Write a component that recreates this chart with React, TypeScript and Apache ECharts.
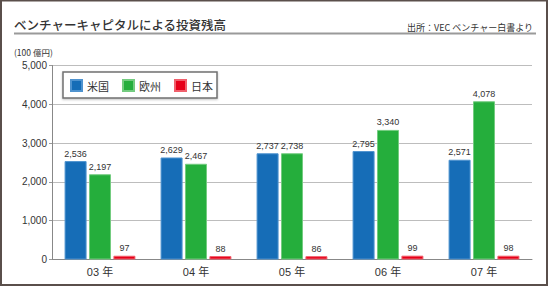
import React, { useEffect, useRef } from "react";
import * as echarts from "echarts";

const categories = ["03 年", "04 年", "05 年", "06 年", "07 年"];
const usValues = [2536, 2629, 2737, 2795, 2571];
const euValues = [2197, 2467, 2738, 3340, 4078];
const jpValues = [97, 88, 86, 99, 98];
const seriesNames = ["米国", "欧州", "日本"];
const yTicks = { min: 0, max: 5000, interval: 1000 };

const TITLE = "ベンチャーキャピタルによる投資残高";
const SOURCE = "出所：VEC ベンチャー白書より";
const UNIT = "(100 億円)";

const LATIN = "'Liberation Sans', Arial, 'Noto Sans CJK JP', sans-serif";
const CJK = "'Noto Sans CJK JP', 'Liberation Sans', sans-serif";

export default function App() {
  const ref = useRef<HTMLDivElement>(null);

  useEffect(() => {
    document.body.style.margin = "0";
    const chart = echarts.init(ref.current!, null, { renderer: "svg" });
    const label = {
      show: true,
      position: "top" as const,
      distance: 3,
      color: "#333",
      fontSize: 9,
      fontFamily: LATIN,
      formatter: (p: any) => Number(p.value).toLocaleString("en-US"),
    };
    const mk = (name: string, data: number[], color: string, border: string) => ({
      name,
      type: "bar",
      data,
      barWidth: 22,
      barGap: "11%",
      itemStyle: { color, borderColor: border, borderWidth: 1 },
      label,
    });
    chart.setOption({
      animation: false,
      backgroundColor: "#fff",
      grid: { left: 52, right: 18, top: 65.5, bottom: 27.5 },
      legend: {
        data: seriesNames,
        left: 70,
        top: 79,
        padding: 0,
        itemWidth: 11,
        itemHeight: 11,
        itemGap: 13,
        icon: "rect",
        z: 10,
        textStyle: { fontSize: 11, color: "#333", fontFamily: CJK },
      },
      xAxis: {
        type: "category",
        data: categories,
        axisLine: { show: true, lineStyle: { color: "#888", width: 1 } },
        axisTick: { show: false },
        axisLabel: { color: "#333", fontSize: 11, fontFamily: LATIN, margin: 7 },
      },
      yAxis: {
        type: "value",
        min: yTicks.min,
        max: yTicks.max,
        interval: yTicks.interval,
        axisLine: { show: true, lineStyle: { color: "#888", width: 1 } },
        axisTick: { show: true, length: 3, lineStyle: { color: "#999" } },
        splitLine: { show: true, lineStyle: { color: "#bdbdbd", width: 1 } },
        axisLabel: {
          color: "#333",
          fontSize: 10,
          fontFamily: LATIN,
          margin: 5,
          formatter: (v: number) => v.toLocaleString("en-US"),
        },
      },
      series: [
        mk(seriesNames[0], usValues, "#166db7", "#4f93cf"),
        mk(seriesNames[1], euValues, "#25ae3c", "#74cc80"),
        mk(seriesNames[2], jpValues, "#e60019", "#f0606c"),
      ],
      graphic: [
        {
          type: "rect",
          shape: { x: 1, y: 0.5, width: 546, height: 284.5 },
          style: { fill: "none", stroke: "#5a4f4b", lineWidth: 2 },
          z: 20,
        },
        {
          type: "text",
          x: 14,
          y: 24,
          style: {
            text: TITLE,
            fontSize: 12.5,
            fontWeight: 500,
            fontFamily: CJK,
            fill: "#333",
            verticalAlign: "middle",
          },
        },
        {
          type: "line",
          shape: { x1: 14, y1: 33.5, x2: 536, y2: 33.5 },
          style: { stroke: "#9a9a9a", lineWidth: 2 },
        },
        {
          type: "text",
          x: 533,
          y: 27,
          style: {
            text: SOURCE,
            fontSize: 9,
            fontFamily: CJK,
            fill: "#333",
            align: "right",
            verticalAlign: "middle",
          },
        },
        {
          type: "text",
          x: 14,
          y: 52,
          style: {
            text: UNIT,
            fontSize: 8.5,
            fontFamily: CJK,
            fill: "#333",
            verticalAlign: "middle",
          },
        },
        {
          type: "rect",
          z: 5,
          shape: { x: 63, y: 72, width: 154, height: 26 },
          style: {
            fill: "#fff",
            stroke: "#707070",
            lineWidth: 1.5,
            shadowBlur: 2,
            shadowOffsetY: 1,
            shadowColor: "rgba(0,0,0,0.25)",
          },
        },
      ],
    });
    return () => chart.dispose();
  }, []);

  return <div ref={ref} style={{ width: 550, height: 287 }} />;
}
